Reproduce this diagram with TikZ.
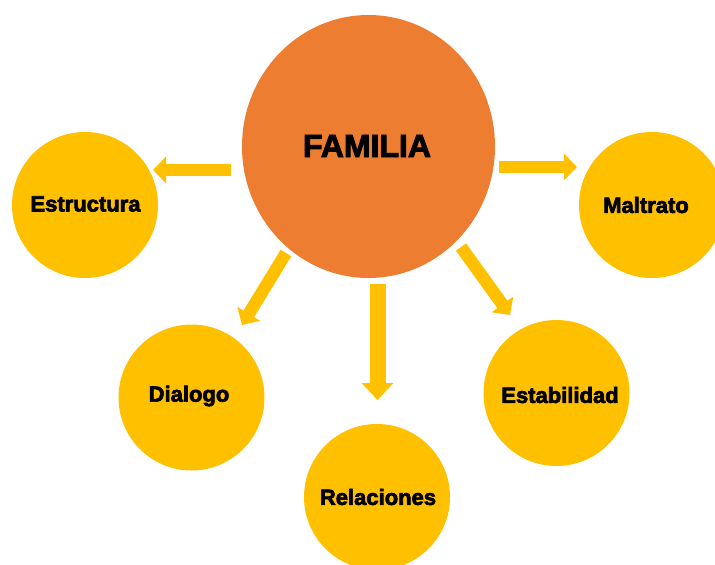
\documentclass[tikz,border=0pt]{standalone}
\usepackage{fontspec}
\setmainfont{Liberation Sans}[BoldFeatures={FakeBold=3}]
\usetikzlibrary{arrows.meta,shapes.geometric}
\definecolor{famorange}{HTML}{ED7D31}
\definecolor{gold}{HTML}{FFC000}
\begin{document}
\begin{tikzpicture}[x=1pt,y=-1pt,
  bubble/.style={circle,fill=gold,minimum size=146pt,inner sep=0pt},
  lbl/.style={font=\fontsize{22}{26}\selectfont\bfseries},
  hub/.style={ellipse,fill=famorange,minimum width=253pt,minimum height=263pt,inner sep=0pt},
  conn/.style={draw=gold,line width=12.5pt,-{Triangle[width=26pt,length=13pt]}},
  connthick/.style={draw=gold,line width=16pt,-{Triangle[width=31pt,length=17pt]}}]
\useasboundingbox (0,0) rectangle (715,565);
\node[hub] (fam) at (368.5,146.5) {};
\node[font=\fontsize{32}{36}\selectfont\bfseries] (famtext) at (367,146) {FAMILIA};
\node[bubble] (est) at (85,205) {};
\node[lbl] (esttext) at (85.5,204) {Estructura};
\node[bubble] (mal) at (652,205) {};
\node[lbl] (maltext) at (646,205) {Maltrato};
\node[bubble] (dia) at (191.5,397.5) {};
\node[lbl] (diatext) at (189,396) {Dialogo};
\node[bubble] (rel) at (377,497) {};
\node[lbl] (reltext) at (378,497) {Relaciones};
\node[bubble] (stab) at (556.5,393) {};
\node[lbl] (stabtext) at (560,395) {Estabilidad};
% arrow end points
\coordinate (a1s) at (231,170); \coordinate (a1e) at (153,170);
\coordinate (a2s) at (499,167); \coordinate (a2e) at (577,167);
\coordinate (a3s) at (286,253); \coordinate (a3e) at (242,325);
\coordinate (a4s) at (377.5,284); \coordinate (a4e) at (377.5,400);
\coordinate (a5s) at (461,247); \coordinate (a5e) at (510,315);
\draw[conn] (a1s) -- (a1e);
\draw[conn] (a2s) -- (a2e);
\draw[conn] (a3s) -- (a3e);
\draw[connthick] (a4s) -- (a4e);
\draw[conn] (a5s) -- (a5e);
\end{tikzpicture}
\end{document}
